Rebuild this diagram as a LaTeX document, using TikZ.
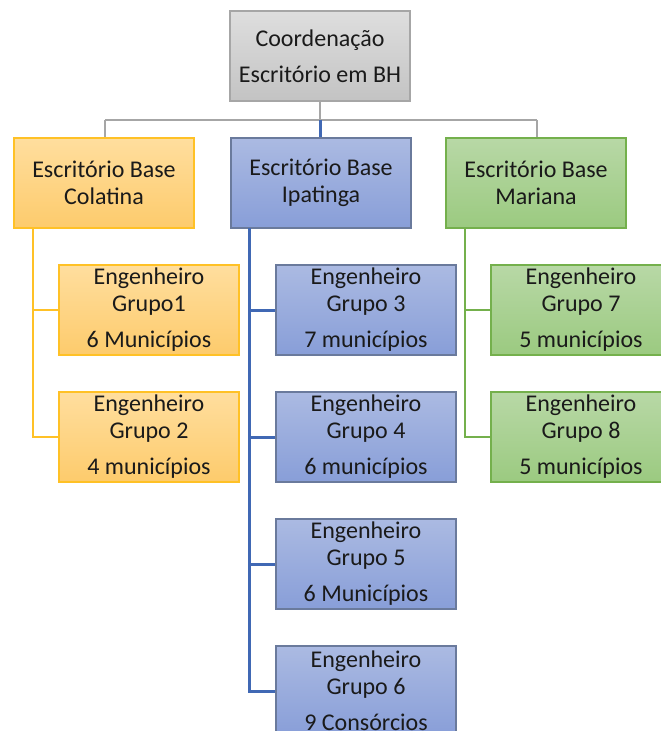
\documentclass[tikz,border=0pt]{standalone}
\usepackage{fontspec}
\setmainfont{Carlito}
\definecolor{grayT}{HTML}{DEDEDE}
\definecolor{grayB}{HTML}{C3C3C3}
\definecolor{grayL}{HTML}{A6A6A6}
\definecolor{orT}{HTML}{FFDE9E}
\definecolor{orB}{HTML}{FDCB6C}
\definecolor{orL}{HTML}{FFC126}
\definecolor{blT}{HTML}{ABBAE2}
\definecolor{blB}{HTML}{889ED8}
\definecolor{blL}{HTML}{6A7A9C}
\definecolor{blC}{HTML}{4068B4}
\definecolor{grT}{HTML}{B8D8A6}
\definecolor{grB}{HTML}{9BCA80}
\definecolor{grL}{HTML}{74B04C}
\definecolor{txt}{HTML}{1A1A1A}
\tikzset{
  box/.style={rectangle, minimum width=180pt, minimum height=90pt, inner sep=0pt,
    align=center, text=txt, font=\fontsize{24}{27}\selectfont, line width=1.2pt},
  graybox/.style={box, draw=grayL, top color=grayT, bottom color=grayB},
  orbox/.style={box, draw=orL, top color=orT, bottom color=orB},
  blbox/.style={box, draw=blL, top color=blT, bottom color=blB},
  grbox/.style={box, draw=grL, top color=grT, bottom color=grB},
  gline/.style={draw=grayL, line width=1.5pt},
  oline/.style={draw=orL, line width=1.5pt},
  bline/.style={draw=blC, line width=3pt},
  rline/.style={draw=grL, line width=1.5pt}
}
\begin{document}
\begin{tikzpicture}[x=1pt,y=-1pt]
\clip (0,0) rectangle (661,731);
\fill[white] (0,0) rectangle (661,731);
% nodes
\node[graybox] (top) at (320,56) {Coordenação\\[9pt]Escritório em BH};
\node[orbox] (col) at (104,183) {Escritório Base\\Colatina};
\node[blbox] (ipa) at (321,183) {Escritório Base\\Ipatinga};
\node[grbox] (mar) at (536,183) {Escritório Base\\Mariana};
\node[orbox] (g1) at (149,310) {Engenheiro\\Grupo1\\[9pt]6 Municípios};
\node[orbox] (g2) at (149,437) {Engenheiro\\Grupo 2\\[9pt]4 municípios};
\node[blbox] (g3) at (366,310) {Engenheiro\\Grupo 3\\[9pt]7 municípios};
\node[blbox] (g4) at (366,437) {Engenheiro\\Grupo 4\\[9pt]6 municípios};
\node[blbox] (g5) at (366,564) {Engenheiro\\Grupo 5\\[9pt]6 Municípios};
\node[blbox] (g6) at (366,691) {Engenheiro\\Grupo 6\\[9pt]9 Consórcios};
\node[grbox] (g7) at (581,310) {Engenheiro\\Grupo 7\\[9pt]5 municípios};
\node[grbox] (g8) at (581,437) {Engenheiro\\Grupo 8\\[9pt]5 municípios};
% top connectors
\coordinate (hub) at (320,120);
\coordinate (hl) at (105,120);
\coordinate (hr) at (537,120);
\draw[gline] (top.south) -- (hub);
\draw[gline] (hl) -- (hr);
\draw[gline] (hl) -- (hl |- col.north);
\draw[gline] (hr) -- (hr |- mar.north);
\draw[bline] (hub) -- (hub |- ipa.north);
% Colatina
\coordinate (cv) at (33,228);
\draw[oline] (cv) |- (g1.west);
\draw[oline] (cv) |- (g2.west);
% Ipatinga
\coordinate (iv) at (249,228);
\draw[bline] (iv) |- (g3.west);
\draw[bline] (iv) |- (g4.west);
\draw[bline] (iv) |- (g5.west);
\draw[bline] (iv) |- (g6.west);
% Mariana
\coordinate (mv) at (465,228);
\draw[rline] (mv) |- (g7.west);
\draw[rline] (mv) |- (g8.west);
\end{tikzpicture}
\end{document}
